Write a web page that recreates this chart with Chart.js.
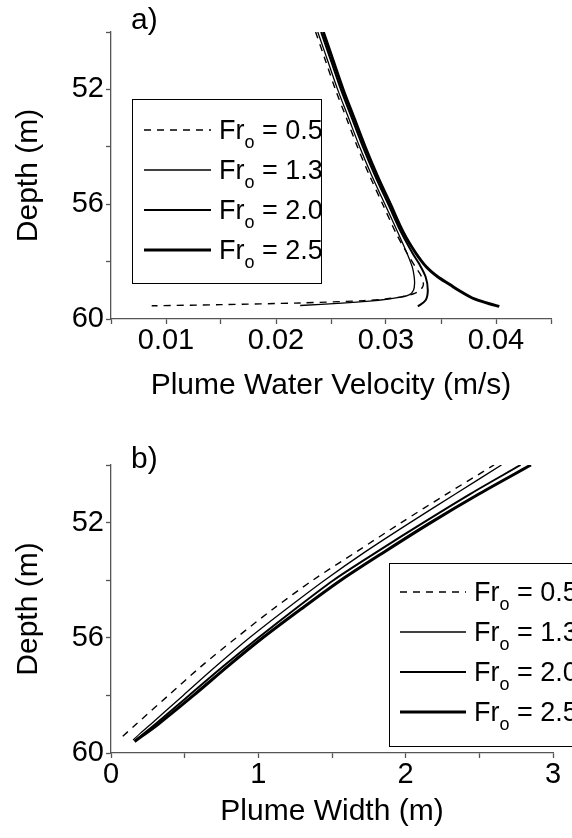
<!DOCTYPE html>
<html>
<head>
<meta charset="utf-8">
<script src="https://cdn.jsdelivr.net/npm/chart.js@4.4.1/dist/chart.umd.min.js"></script>
<style>
  html, body { margin: 0; padding: 0; background: #fff; }
  .panel { position: absolute; left: 0; width: 572px; }
  #panelA { top: 0; height: 420px; }
  #panelB { top: 420px; height: 418px; }
</style>
</head>
<body>
<div class="panel" id="panelA"><canvas id="velocityChart"></canvas></div>
<div class="panel" id="panelB"><canvas id="widthChart"></canvas></div>
<script>
// Froude numbers of the four runs (legend)
const froude = ['0.5', '1.3', '2.0', '2.5'];

// a) plume water velocity (m/s) against depth (m)
const depthA05 = [50, 51, 52, 53, 54, 55, 56, 57, 57.7, 58.2, 58.5, 58.8, 59.0, 59.12, 59.22, 59.3, 59.36, 59.44, 59.5, 59.54];
const velA05 = [0.0236, 0.0245, 0.0254, 0.0264, 0.0274, 0.0285, 0.0297, 0.0309, 0.0319, 0.0327, 0.0332, 0.0334, 0.0331, 0.0325, 0.0315, 0.0300, 0.0280, 0.0222, 0.0150, 0.0087];
const depthA13 = [50, 51, 52, 53, 54, 55, 56, 57, 57.7, 58.2, 58.5, 58.75, 59.0, 59.16, 59.25, 59.31, 59.38, 59.45, 59.53];
const velA13 = [0.0238, 0.0247, 0.0256, 0.0266, 0.0276, 0.0287, 0.0299, 0.0311, 0.0319, 0.0324, 0.03255, 0.0326, 0.0325, 0.0321, 0.0312, 0.0302, 0.0285, 0.0260, 0.0222];
const depthA20 = [50, 51, 52, 53, 54, 55, 56, 57, 57.7, 58.07, 58.53, 59.0, 59.35, 59.56];
const velA20 = [0.0241, 0.0250, 0.0259, 0.0269, 0.0279, 0.0290, 0.0302, 0.0314, 0.0324, 0.0330, 0.0336, 0.0338, 0.0336, 0.0329];
const depthA25 = [50, 51, 52, 53, 54, 55, 56, 57, 57.7, 58.2, 58.53, 58.8, 59.0, 59.2, 59.31, 59.47, 59.56];
const velA25 = [0.0243, 0.0252, 0.0261, 0.0271, 0.0281, 0.0292, 0.0304, 0.0316, 0.0327, 0.0337, 0.0347, 0.0358, 0.0366, 0.0375, 0.0381, 0.0394, 0.0403];

// b) plume width (m) against depth (m)
const depthB05 = [59.42, 59, 58, 57, 56, 55, 54, 53, 52, 51, 50];
const widthB05 = [0.08, 0.17, 0.39, 0.61, 0.85, 1.10, 1.37, 1.67, 1.97, 2.28, 2.60];
const depthB13 = [59.55, 59.31, 59, 58, 57, 56, 55, 54, 53, 52, 51, 50];
const widthB13 = [0.15, 0.20, 0.27, 0.49, 0.71, 0.94, 1.19, 1.45, 1.73, 2.03, 2.34, 2.65];
const depthB20 = [59.58, 59, 58, 57, 56, 55, 54, 53, 52, 51, 50];
const widthB20 = [0.16, 0.30, 0.53, 0.76, 1.00, 1.25, 1.51, 1.81, 2.12, 2.44, 2.78];
const depthB25 = [59.6, 59, 58, 57, 56, 55, 54, 53, 52, 51, 50];
const widthB25 = [0.16, 0.32, 0.56, 0.79, 1.03, 1.29, 1.56, 1.86, 2.17, 2.50, 2.85];

const FONT = '"Liberation Sans", Arial, sans-serif';
const AXIS_GREY = '#555';

// line look per run: dashed, thin, medium, thick
const lineStyles = [
    { borderWidth: 1.4, borderDash: [7, 6] },
    { borderWidth: 1.3, borderDash: [] },
    { borderWidth: 2, borderDash: [] },
    { borderWidth: 3, borderDash: [] }
];

const toPoints = (xs, ys) => xs.map((x, i) => ({ x: x, y: ys[i] }));

function makeDatasets(pairs) {
    return pairs.map((p, i) => ({
        label: 'Fro = ' + froude[i],
        data: toPoints(p[0], p[1]),
        borderColor: '#000',
        borderWidth: lineStyles[i].borderWidth,
        borderDash: lineStyles[i].borderDash,
        showLine: true,
        pointRadius: 0,
        tension: 0.3,
        fill: false
    }));
}

// legend drawn by hand so "o" can sit as a subscript
const frLegend = {
    id: 'frLegend',
    afterDraw(chart, args, o) {
        const ctx = chart.ctx;
        ctx.save();
        ctx.strokeStyle = '#000';
        ctx.lineWidth = 1;
        ctx.setLineDash([]);
        ctx.strokeRect(o.x + 0.5, o.y + 0.5, o.width, o.height);
        chart.data.datasets.forEach((ds, i) => {
            const y = o.rowTop + i * o.rowGap;
            ctx.beginPath();
            ctx.setLineDash(ds.borderDash);
            ctx.lineWidth = ds.borderWidth;
            ctx.moveTo(o.lineX0, y);
            ctx.lineTo(o.lineX1, y);
            ctx.stroke();
            ctx.setLineDash([]);
            ctx.fillStyle = '#000';
            ctx.textBaseline = 'alphabetic';
            let x = o.textX;
            ctx.font = '27px ' + FONT;
            ctx.fillText('Fr', x, y + 9);
            x += ctx.measureText('Fr').width;
            ctx.font = '18px ' + FONT;
            ctx.fillText('o', x, y + 18);
            x += ctx.measureText('o').width;
            ctx.font = '27px ' + FONT;
            ctx.fillText(' = ' + froude[i], x, y + 9);
        });
        ctx.restore();
    }
};

const panelTag = {
    id: 'panelTag',
    afterDraw(chart, args, o) {
        const ctx = chart.ctx;
        ctx.save();
        ctx.fillStyle = '#000';
        ctx.font = '30px ' + FONT;
        ctx.textBaseline = 'alphabetic';
        ctx.fillText(o.text, chart.chartArea.left + 20, chart.chartArea.top + o.dy);
        ctx.restore();
    }
};

function depthAxis() {
    return {
        reverse: true,
        min: 50,
        max: 60,
        afterFit: s => { s.width = 111; },
        ticks: {
            stepSize: 2,
            autoSkip: false,
            color: '#000',
            padding: 2,
            font: { family: FONT, size: 29 },
            callback: v => (v % 4 === 0 ? String(v) : '')
        },
        grid: { drawOnChartArea: false, drawTicks: true, tickLength: 5, tickWidth: 1.3, color: AXIS_GREY },
        border: { display: true, color: AXIS_GREY, width: 1.3 },
        title: { display: true, text: 'Depth (m)', color: '#000', font: { family: FONT, size: 30 }, padding: { top: 11, bottom: 0 } }
    };
}

function bottomAxis(min, max, step, labelOf, title, boxHeight, titlePad) {
    return {
        type: 'linear',
        min: min,
        max: max,
        afterFit: s => { s.height = boxHeight; },
        ticks: {
            stepSize: step,
            autoSkip: false,
            maxRotation: 0,
            color: '#000',
            padding: 0,
            font: { family: FONT, size: 29 },
            callback: labelOf
        },
        grid: { drawOnChartArea: false, drawTicks: true, tickLength: 5, tickWidth: 1.3, color: AXIS_GREY },
        border: { display: true, color: AXIS_GREY, width: 1.3 },
        title: { display: true, text: title, color: '#000', font: { family: FONT, size: 30 }, padding: { top: 0, bottom: titlePad } }
    };
}

new Chart(document.getElementById('velocityChart'), {
    type: 'scatter',
    data: {
        datasets: makeDatasets([[velA05, depthA05], [velA13, depthA13], [velA20, depthA20], [velA25, depthA25]])
    },
    options: {
        responsive: true,
        maintainAspectRatio: false,
        animation: false,
        layout: { padding: { top: 32, right: 21, left: 0, bottom: 0 } },
        scales: {
            x: bottomAxis(0.005, 0.045, 0.005, v => {
                const r = Math.round(v * 1000);
                return r % 10 === 0 ? (r / 1000).toFixed(2) : '';
            }, 'Plume Water Velocity (m/s)', 101, 16),
            y: depthAxis()
        },
        plugins: {
            legend: { display: false },
            tooltip: { enabled: false },
            frLegend: { x: 132, y: 99, width: 189, height: 184, rowTop: 130, rowGap: 40, lineX0: 144, lineX1: 211, textX: 219 },
            panelTag: { text: 'a)', dy: -3 }
        }
    },
    plugins: [frLegend, panelTag]
});

new Chart(document.getElementById('widthChart'), {
    type: 'scatter',
    data: {
        datasets: makeDatasets([[widthB05, depthB05], [widthB13, depthB13], [widthB20, depthB20], [widthB25, depthB25]])
    },
    options: {
        responsive: true,
        maintainAspectRatio: false,
        animation: false,
        layout: { padding: { top: 45, right: 19, left: 0, bottom: 0 } },
        scales: {
            x: bottomAxis(0, 3, 0.5, v => (Number.isInteger(v) ? String(v) : ''), 'Plume Width (m)', 85, 8),
            y: depthAxis()
        },
        plugins: {
            legend: { display: false },
            tooltip: { enabled: false },
            frLegend: { x: 389, y: 143, width: 189, height: 183, rowTop: 172, rowGap: 40, lineX0: 400, lineX1: 466, textX: 474 },
            panelTag: { text: 'b)', dy: 3 }
        }
    },
    plugins: [frLegend, panelTag]
});
</script>
</body>
</html>
